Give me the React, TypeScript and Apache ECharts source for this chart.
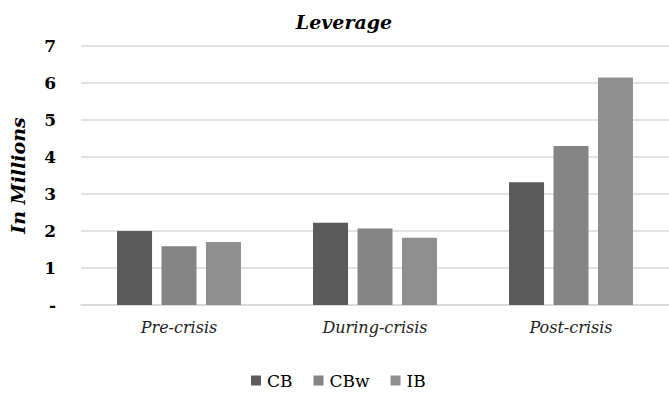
import React, { useEffect, useRef } from "react";
import * as echarts from "echarts";

const categories = ["Pre-crisis", "During-crisis", "Post-crisis"];
const cbValues = [2.0, 2.22, 3.32];
const cbwValues = [1.59, 2.07, 4.3];
const ibValues = [1.7, 1.82, 6.15];
const seriesNames = ["CB", "CBw", "IB"];
const seriesColors = ["#5a5a5a", "#858585", "#8f8f8f"];

const serif = "DejaVu Serif";

export default function App() {
  const ref = useRef<HTMLDivElement>(null);
  useEffect(() => {
    document.body.style.margin = "0";
    const chart = echarts.init(ref.current!, null, { renderer: "svg" });
    const data = [cbValues, cbwValues, ibValues];
    chart.setOption({
      animation: false,
      backgroundColor: "#ffffff",
      title: {
        text: "Leverage",
        left: 339,
        top: 7,
        textAlign: "center",
        textStyle: {
          fontFamily: serif,
          fontStyle: "italic",
          fontWeight: "bold",
          fontSize: 19,
          color: "#000",
        },
      },
      legend: {
        bottom: 3,
        left: 246,
        itemWidth: 10,
        itemHeight: 10,
        itemGap: 21,
        icon: "rect",
        textStyle: { fontFamily: serif, fontSize: 17, color: "#000", padding: [0, 0, 0, 1] },
        data: seriesNames,
      },
      grid: { left: 77, top: 46, width: 600, height: 259, containLabel: false },
      xAxis: {
        type: "category",
        data: categories,
        axisLine: { show: true, lineStyle: { color: "#d9d9d9", width: 1.5 } },
        axisTick: { show: false },
        axisLabel: {
          margin: 14,
          fontFamily: serif,
          fontStyle: "italic",
          fontSize: 16,
          color: "#222",
        },
      },
      yAxis: {
        type: "value",
        min: 0,
        max: 7,
        interval: 1,
        name: "In Millions",
        nameLocation: "middle",
        nameGap: 54,
        nameTextStyle: {
          fontFamily: serif,
          fontStyle: "italic",
          fontWeight: "bold",
          fontSize: 19,
          color: "#000",
        },
        axisLine: { show: false },
        axisTick: { show: false },
        splitLine: { lineStyle: { color: "#d9d9d9", width: 1.5 } },
        axisLabel: {
          margin: 25,
          fontFamily: serif,
          fontWeight: "bold",
          fontSize: 17,
          color: "#000",
          formatter: (v: number) => (v === 0 ? "-" : String(v)),
        },
      },
      series: seriesNames.map((name, i) => ({
        name,
        type: "bar",
        data: data[i],
        barWidth: 35,
        barGap: "27%",
        itemStyle: { color: seriesColors[i] },
      })),
    });
    return () => chart.dispose();
  }, []);
  return <div ref={ref} style={{ width: 669, height: 397 }} />;
}
